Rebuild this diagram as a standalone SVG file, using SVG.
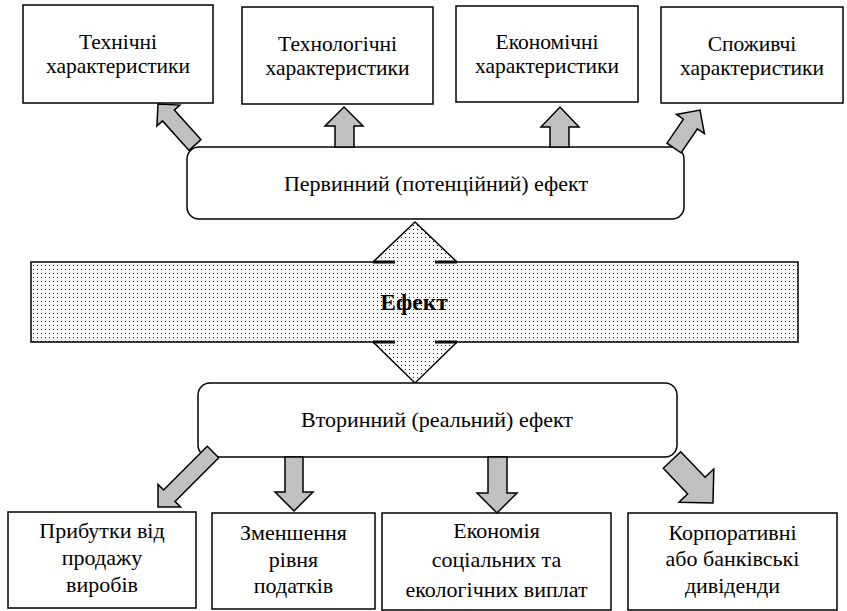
<svg xmlns="http://www.w3.org/2000/svg" width="847" height="611" viewBox="0 0 847 611">
<defs>
<pattern id="dots" x="0" y="0" width="4" height="4" patternUnits="userSpaceOnUse">
<rect width="4" height="4" fill="#ffffff"/>
<rect x="1" y="1" width="1" height="1" fill="#222222"/>
</pattern>
</defs>
<style>
.box{fill:#ffffff;stroke:#000000;stroke-width:1.5}
.t{font-family:"Liberation Serif","Times New Roman",serif;font-size:22px;fill:#000000;text-anchor:middle}
.s{font-size:21.5px}
.b{font-weight:bold;font-size:23.5px}
.arr{fill:#c0c0c0;stroke:#000000;stroke-width:1.5;stroke-linejoin:miter}
.thick{stroke:#000000;stroke-width:3}
</style>
<rect width="847" height="611" fill="#ffffff"/>

<g id="effect">
<path d="M31,262 L373,262 L415,222 L457,262 L798,262 L798,342 L457,342 L415,383 L373,342 L31,342 Z" fill="url(#dots)" stroke="#000000" stroke-width="1.5"/>
<line class="thick" x1="373" y1="262" x2="395" y2="262"/>
<line class="thick" x1="435" y1="262" x2="457" y2="262"/>
<line class="thick" x1="373" y1="342" x2="395" y2="342"/>
<line class="thick" x1="435" y1="342" x2="457" y2="342"/>
<text class="t b" x="414" y="310">Ефект</text>
</g>

<g id="tech">
<rect class="box" x="23" y="5" width="190" height="98"/>
<text class="t s" x="118" y="49">Технічні</text>
<text class="t s" x="118" y="73">характеристики</text>
</g>
<g id="technol">
<rect class="box" x="242" y="7" width="191" height="97"/>
<text class="t s" x="337.5" y="51">Технологічні</text>
<text class="t s" x="337.5" y="75">характеристики</text>
</g>
<g id="econ">
<rect class="box" x="456" y="6" width="182" height="96"/>
<text class="t s" x="547" y="49">Економічні</text>
<text class="t s" x="547" y="73">характеристики</text>
</g>
<g id="consumer">
<rect class="box" x="661" y="7" width="182" height="96"/>
<text class="t s" x="752" y="51">Споживчі</text>
<text class="t s" x="752" y="75">характеристики</text>
</g>

<g id="primary">
<rect class="box" x="187" y="147" width="497" height="72" rx="12" ry="12"/>
<text class="t" x="436" y="191">Первинний (потенційний) ефект</text>
</g>

<g id="secondary">
<rect class="box" x="198" y="383" width="479" height="74" rx="12" ry="12"/>
<text class="t" x="437" y="427">Вторинний (реальний) ефект</text>
</g>

<g id="profit">
<rect class="box" x="8" y="512" width="188" height="96"/>
<text class="t" x="102" y="538">Прибутки від</text>
<text class="t" x="102" y="565">продажу</text>
<text class="t" x="102" y="592">виробів</text>
</g>
<g id="tax">
<rect class="box" x="212" y="513" width="163" height="96"/>
<text class="t" x="293.5" y="540">Зменшення</text>
<text class="t" x="293.5" y="567">рівня</text>
<text class="t" x="293.5" y="593">податків</text>
</g>
<g id="saving">
<rect class="box" x="382" y="513" width="229" height="97"/>
<text class="t" x="496.5" y="538">Економія</text>
<text class="t" x="496.5" y="567">соціальних та</text>
<text class="t" x="496.5" y="597">екологічних виплат</text>
</g>
<g id="dividends">
<rect class="box" x="628" y="513" width="209" height="97"/>
<text class="t" x="732.5" y="540">Корпоративні</text>
<text class="t" x="732.5" y="566">або банківські</text>
<text class="t" x="732.5" y="593">дивіденди</text>
</g>

<g id="connectors">
<polygon class="arr" points="200.9,139.6 174.3,110.1 179.9,105.1 158,104 156.9,125.9 162.5,120.9 189.1,150.4"/>
<polygon class="arr" points="335,147 335,126 325,126 344,107 363,126 354,126 354,147"/>
<polygon class="arr" points="550,147 550,127 541,127 560,107 579,127 569,127 569,147"/>
<polygon class="arr" points="681.0,152.8 697.4,128.8 704.4,133.6 700,110 676.4,114.4 683.4,119.2 667.0,143.2"/>
<polygon class="arr" points="207.3,446.3 163.6,490.0 158,484.4 158,507 180.6,507 175.0,501.4 218.7,457.7"/>
<polygon class="arr" points="285,457 285,492 275,492 294,511 313,492 303,492 303,457"/>
<polygon class="arr" points="488,457 488,493 477,493 497,513 517,493 507,493 507,457"/>
<polygon class="arr" points="663.3,468.3 687.7,493.9 679.0,502.2 713,503 713.8,469.0 705.1,477.3 680.7,451.7"/>
</g>
</svg>
